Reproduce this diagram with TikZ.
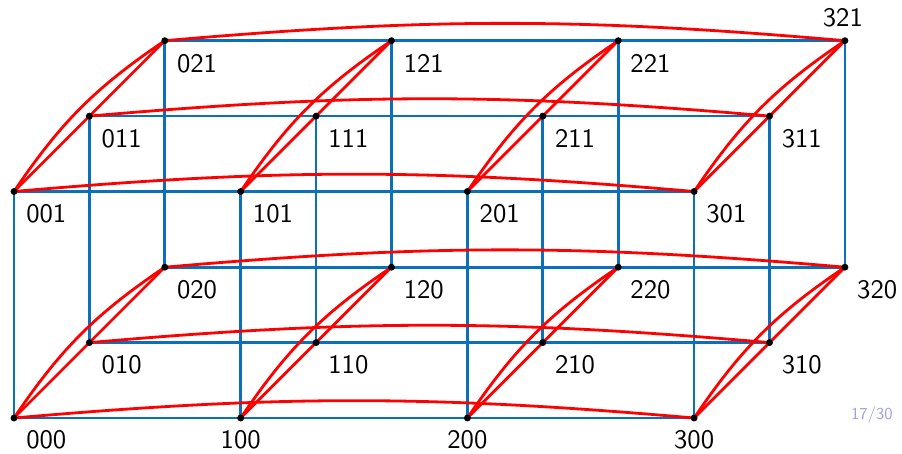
\documentclass[tikz,border=0pt]{standalone}
\usepackage{fontspec}
\newfontfamily\labfont{lmsans10-regular.otf}
\usetikzlibrary{calc}
\definecolor{gridblue}{RGB}{10,112,188}
\definecolor{edgered}{RGB}{255,0,0}
\definecolor{pagecol}{RGB}{160,160,222}
\tikzset{
  blueline/.style={draw=gridblue,line width=2pt},
  redline/.style={draw=edgered,line width=2.1pt},
  dot/.style={circle,fill=black,inner sep=0pt,minimum size=5.2pt},
  lab/.style={inner sep=0pt,font=\labfont\fontsize{20}{24}\selectfont},
  pagenum/.style={inner sep=0pt,text=pagecol,font=\labfont\fontsize{12.5}{14}\selectfont}
}
\begin{document}
\begin{tikzpicture}[x=0.75pt,y=-0.75pt]
\useasboundingbox (0,0) rectangle (902,453);
% points
\foreach \i in {0,...,3}{
  \foreach \j in {0,1,2}{
    \foreach \k in {0,1}{
      \coordinate (p\i\j\k) at ({14+226.7*\i+75.4*\j},{418-75.4*\j-226.5*\k});
    }
  }
}
% blue grid lines
\foreach \j in {0,1,2}{
  \foreach \k in {0,1}{
    \draw[blueline] (p0\j\k) -- (p1\j\k) -- (p2\j\k) -- (p3\j\k);
  }
}
\foreach \i in {0,...,3}{
  \foreach \j in {0,1,2}{
    \draw[blueline] (p\i\j0) -- (p\i\j1);
  }
}
% red edges
\foreach \j in {0,1,2}{
  \foreach \k in {0,1}{
    \draw[redline] (p0\j\k) to[bend left=5] (p3\j\k);
  }
}
\foreach \i in {0,...,3}{
  \foreach \k in {0,1}{
    \draw[redline] (p\i0\k) -- (p\i1\k) -- (p\i2\k);
    \draw[redline] (p\i0\k) to[bend left=11] (p\i2\k);
  }
}
% dots and labels
\foreach \i in {0,...,3}{
  \foreach \j in {0,1,2}{
    \foreach \k in {0,1}{
      \node[dot] (d\i\j\k) at (p\i\j\k) {};
    }
  }
}
\foreach \n in {001,010,011,020,021,101,110,111,120,121,201,210,211,220,221,301,310,311,320}{
  \node[lab,anchor=north west] (l\n) at ([shift={(12,13)}]p\n) {\n};
}
\node[lab,anchor=north west] (l000) at ([shift={(12,12)}]p000) {000};
\foreach \n in {100,200,300}{
  \node[lab,anchor=north] (l\n) at ([shift={(0,12)}]p\n) {\n};
}
\node[lab,anchor=south] (l321) at ([shift={(-2,-13)}]p321) {321};
\node[pagenum,anchor=base east] (page) at (893,419) {17/30};
\end{tikzpicture}
\end{document}
